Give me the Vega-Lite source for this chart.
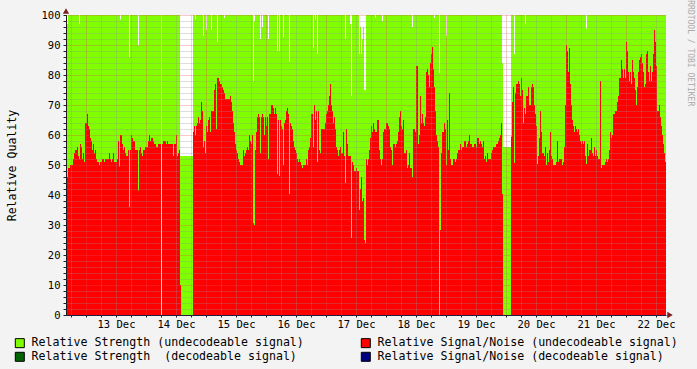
{
"$schema": "https://vega.github.io/schema/vega-lite/v6.json",
"width": 600, "height": 300,
"autosize": "none",
"padding": {"left": 66, "top": 15, "right": 31, "bottom": 54},
"background": "#F3F3F3",
"title": {"text": "RRDTOOL / TOBI OETIKER", "orient": "right", "anchor": "start", "fontSize": 8, "font": "DejaVu Sans Mono", "color": "#AAAAAA", "fontWeight": "normal", "offset": 8, "dx": -8},
"config": {"view": {"fill": "white", "stroke": null}, "font": "DejaVu Sans Mono"},
"datasets": {
"arrows": [{"hour":256,"value":0,"kind":"x"},{"hour":16,"value":100,"kind":"y"}],
"strength": [
{"hour":16,"value":100},{"hour":16.4,"value":97},{"hour":16.8,"value":100},{"hour":21.2,"value":97},{"hour":21.6,"value":100},{"hour":37.6,"value":98.5},{"hour":38,"value":100},{"hour":41.2,"value":86},{"hour":41.6,"value":100},{"hour":44.8,"value":90},{"hour":45.2,"value":100},{"hour":54,"value":0},{"hour":54.4,"value":100},{"hour":61.6,"value":53},{"hour":66.8,"value":100},{"hour":67.6,"value":98.5},{"hour":68,"value":100},{"hour":70.8,"value":93},{"hour":71.2,"value":100},{"hour":72,"value":95},{"hour":72.4,"value":100},{"hour":74,"value":95},{"hour":74.4,"value":100},{"hour":76.4,"value":91},{"hour":76.8,"value":100},{"hour":79.2,"value":99},{"hour":79.6,"value":100},{"hour":90.8,"value":78},{"hour":91.2,"value":98},{"hour":91.6,"value":100},{"hour":93.6,"value":92},{"hour":94,"value":100},{"hour":94.4,"value":96},{"hour":94.8,"value":100},{"hour":96.8,"value":92},{"hour":97.2,"value":100},{"hour":100.4,"value":88},{"hour":100.8,"value":100},{"hour":101.2,"value":88},{"hour":101.6,"value":100},{"hour":102.8,"value":92.6},{"hour":103.2,"value":100},{"hour":105.2,"value":84.4},{"hour":105.6,"value":100},{"hour":114.8,"value":89},{"hour":115.2,"value":100},{"hour":115.6,"value":98.5},{"hour":116,"value":100},{"hour":116.4,"value":87},{"hour":116.8,"value":100},{"hour":127.6,"value":92},{"hour":128,"value":100},{"hour":129.6,"value":97},{"hour":130,"value":73},{"hour":130.4,"value":100},{"hour":133.2,"value":87},{"hour":133.6,"value":96},{"hour":134,"value":87},{"hour":134.4,"value":92},{"hour":134.8,"value":96},{"hour":135.2,"value":75},{"hour":136,"value":100},{"hour":139.6,"value":99},{"hour":140,"value":100},{"hour":142.4,"value":98},{"hour":142.8,"value":100},{"hour":154.4,"value":96},{"hour":154.8,"value":100},{"hour":163.2,"value":99},{"hour":163.6,"value":100},{"hour":165.2,"value":80.6},{"hour":165.6,"value":100},{"hour":168,"value":93},{"hour":168.4,"value":100},{"hour":190.4,"value":84},{"hour":190.8,"value":56},{"hour":194,"value":100},{"hour":195.2,"value":87},{"hour":195.6,"value":100},{"hour":199.6,"value":97},{"hour":200,"value":100},{"hour":224,"value":95.5},{"hour":224.4,"value":100},{"hour":256,"value":100}
],
"snr": [
{"hour":16,"value":46},{"hour":16.8,"value":49},{"hour":17.6,"value":50},{"hour":18.8,"value":52},{"hour":19.2,"value":54},{"hour":19.6,"value":55},{"hour":20.4,"value":56},{"hour":20.8,"value":53},{"hour":21.2,"value":52},{"hour":21.6,"value":57},{"hour":22,"value":56},{"hour":22.4,"value":52},{"hour":22.8,"value":54},{"hour":23.2,"value":51},{"hour":23.6,"value":64},{"hour":24.4,"value":67},{"hour":24.8,"value":63},{"hour":25.2,"value":62},{"hour":25.6,"value":59},{"hour":26,"value":58},{"hour":26.4,"value":55},{"hour":26.8,"value":57},{"hour":27.2,"value":54},{"hour":27.6,"value":55},{"hour":28,"value":52},{"hour":28.4,"value":51},{"hour":29.2,"value":50},{"hour":29.6,"value":51},{"hour":30.4,"value":52},{"hour":31.2,"value":51},{"hour":31.6,"value":52},{"hour":33.2,"value":54},{"hour":33.6,"value":52},{"hour":34,"value":51},{"hour":34.4,"value":52},{"hour":34.8,"value":54},{"hour":35.2,"value":51},{"hour":36.4,"value":52},{"hour":36.8,"value":58},{"hour":37.2,"value":49.5},{"hour":37.6,"value":60},{"hour":38.4,"value":57},{"hour":38.8,"value":55},{"hour":39.2,"value":56},{"hour":39.6,"value":54},{"hour":40,"value":53},{"hour":40.8,"value":55},{"hour":41.2,"value":36},{"hour":41.6,"value":55},{"hour":42,"value":60},{"hour":42.4,"value":59},{"hour":42.8,"value":58},{"hour":43.6,"value":55},{"hour":44.8,"value":41.5},{"hour":45.2,"value":55},{"hour":45.6,"value":56},{"hour":46,"value":54},{"hour":46.4,"value":53},{"hour":46.8,"value":55},{"hour":47.6,"value":56},{"hour":48.8,"value":58},{"hour":49.2,"value":60},{"hour":49.6,"value":58},{"hour":50,"value":59},{"hour":50.8,"value":58},{"hour":51.2,"value":57},{"hour":52,"value":56},{"hour":52.8,"value":57},{"hour":54,"value":0},{"hour":54.4,"value":57},{"hour":54.8,"value":58},{"hour":56,"value":57},{"hour":56.4,"value":58},{"hour":56.8,"value":57},{"hour":58.8,"value":53},{"hour":59.2,"value":57},{"hour":60,"value":60},{"hour":60.4,"value":53},{"hour":60.8,"value":54},{"hour":61.2,"value":55},{"hour":61.6,"value":10},{"hour":62,"value":0},{"hour":66.8,"value":61},{"hour":67.2,"value":63},{"hour":67.6,"value":60},{"hour":68,"value":63},{"hour":68.4,"value":64},{"hour":68.8,"value":66},{"hour":69.2,"value":64},{"hour":69.6,"value":65},{"hour":70,"value":71},{"hour":70.4,"value":68},{"hour":70.8,"value":56},{"hour":71.2,"value":58},{"hour":71.6,"value":54},{"hour":72,"value":63},{"hour":72.4,"value":61},{"hour":72.8,"value":65},{"hour":73.2,"value":66},{"hour":73.6,"value":61},{"hour":74,"value":68},{"hour":75.2,"value":75},{"hour":75.6,"value":77},{"hour":76,"value":62},{"hour":76.4,"value":79},{"hour":77.2,"value":78},{"hour":77.6,"value":77},{"hour":78.4,"value":76},{"hour":78.8,"value":75},{"hour":79.2,"value":74},{"hour":79.6,"value":72},{"hour":81.6,"value":73},{"hour":82,"value":71},{"hour":82.4,"value":68},{"hour":82.8,"value":64},{"hour":83.2,"value":61},{"hour":83.6,"value":57},{"hour":84,"value":55},{"hour":84.4,"value":54},{"hour":84.8,"value":52},{"hour":85.2,"value":51},{"hour":85.6,"value":50},{"hour":86.8,"value":55},{"hour":87.2,"value":53},{"hour":87.6,"value":54},{"hour":88,"value":55},{"hour":88.4,"value":56},{"hour":88.8,"value":55},{"hour":89.2,"value":60},{"hour":89.6,"value":58},{"hour":90,"value":57},{"hour":90.4,"value":60},{"hour":90.8,"value":30.6},{"hour":91.2,"value":30},{"hour":91.6,"value":55},{"hour":92,"value":61},{"hour":92.4,"value":66},{"hour":92.8,"value":67},{"hour":93.2,"value":66},{"hour":93.6,"value":54},{"hour":94,"value":66},{"hour":94.4,"value":67},{"hour":94.8,"value":66},{"hour":95.2,"value":60},{"hour":95.6,"value":66},{"hour":96,"value":63},{"hour":96.4,"value":66},{"hour":96.8,"value":52},{"hour":97.2,"value":67},{"hour":98,"value":70},{"hour":98.8,"value":69},{"hour":99.2,"value":67},{"hour":99.6,"value":69},{"hour":100,"value":67},{"hour":100.4,"value":47},{"hour":100.8,"value":65},{"hour":101.2,"value":46.3},{"hour":101.6,"value":65},{"hour":102,"value":63},{"hour":102.4,"value":62},{"hour":102.8,"value":50},{"hour":103.2,"value":64},{"hour":103.6,"value":65},{"hour":104,"value":68},{"hour":104.4,"value":69},{"hour":104.8,"value":67},{"hour":105.2,"value":40.3},{"hour":105.6,"value":64},{"hour":106,"value":63},{"hour":106.4,"value":62},{"hour":106.8,"value":58},{"hour":107.2,"value":56},{"hour":107.6,"value":55},{"hour":108,"value":54},{"hour":108.4,"value":52},{"hour":108.8,"value":51},{"hour":109.2,"value":52},{"hour":109.6,"value":51},{"hour":110,"value":50},{"hour":110.4,"value":49},{"hour":110.8,"value":50},{"hour":112,"value":52},{"hour":112.4,"value":50},{"hour":112.8,"value":55},{"hour":113.2,"value":56},{"hour":113.6,"value":59},{"hour":114,"value":67},{"hour":114.8,"value":56},{"hour":115.2,"value":70},{"hour":115.6,"value":65},{"hour":116,"value":68},{"hour":116.4,"value":51},{"hour":116.8,"value":68},{"hour":117.2,"value":55},{"hour":117.6,"value":54},{"hour":118,"value":62},{"hour":119.6,"value":64},{"hour":120,"value":67},{"hour":120.4,"value":68},{"hour":120.8,"value":70},{"hour":121.2,"value":73},{"hour":121.6,"value":77},{"hour":122,"value":70},{"hour":122.4,"value":68},{"hour":122.8,"value":64},{"hour":123.2,"value":66},{"hour":123.6,"value":62},{"hour":124,"value":56},{"hour":124.4,"value":55},{"hour":124.8,"value":53},{"hour":125.2,"value":55},{"hour":125.6,"value":56},{"hour":126,"value":54},{"hour":126.8,"value":61},{"hour":127.2,"value":53},{"hour":127.6,"value":44},{"hour":128,"value":62},{"hour":128.4,"value":57},{"hour":128.8,"value":53},{"hour":130,"value":25.7},{"hour":130.4,"value":51},{"hour":130.8,"value":50},{"hour":131.2,"value":48},{"hour":132,"value":49},{"hour":132.4,"value":48},{"hour":133.2,"value":35},{"hour":133.6,"value":42},{"hour":134,"value":46},{"hour":134.4,"value":38},{"hour":134.8,"value":39},{"hour":135.2,"value":25},{"hour":135.6,"value":24},{"hour":136,"value":52},{"hour":136.4,"value":50},{"hour":136.8,"value":52},{"hour":137.2,"value":55},{"hour":137.6,"value":59},{"hour":138,"value":63},{"hour":138.4,"value":61},{"hour":138.8,"value":64},{"hour":139.2,"value":62},{"hour":139.6,"value":61},{"hour":140.4,"value":65},{"hour":141.2,"value":55},{"hour":141.6,"value":52},{"hour":142,"value":50},{"hour":142.4,"value":52},{"hour":142.8,"value":61},{"hour":143.2,"value":62},{"hour":144,"value":64},{"hour":144.8,"value":63},{"hour":145.2,"value":62},{"hour":145.6,"value":56},{"hour":146,"value":55},{"hour":146.4,"value":50},{"hour":146.8,"value":57},{"hour":147.6,"value":56},{"hour":148,"value":57},{"hour":148.4,"value":58},{"hour":148.8,"value":61},{"hour":149.2,"value":66},{"hour":149.6,"value":68},{"hour":150,"value":63},{"hour":150.4,"value":62},{"hour":150.8,"value":65},{"hour":151.2,"value":54},{"hour":152,"value":55},{"hour":152.4,"value":49},{"hour":152.8,"value":50},{"hour":153.2,"value":54},{"hour":153.6,"value":49},{"hour":154.4,"value":46},{"hour":154.8,"value":62},{"hour":155.6,"value":61},{"hour":156,"value":83},{"hour":156.8,"value":57},{"hour":157.2,"value":60},{"hour":157.6,"value":73},{"hour":158,"value":64},{"hour":158.4,"value":67},{"hour":158.8,"value":64},{"hour":159.2,"value":63},{"hour":159.6,"value":66},{"hour":160,"value":81},{"hour":160.4,"value":82},{"hour":160.8,"value":80},{"hour":161.2,"value":76},{"hour":161.6,"value":84},{"hour":162,"value":87},{"hour":162.4,"value":89.3},{"hour":162.8,"value":82},{"hour":163.2,"value":76},{"hour":163.6,"value":68},{"hour":164,"value":60},{"hour":164.4,"value":58},{"hour":164.8,"value":56},{"hour":165.2,"value":0},{"hour":165.6,"value":28.3},{"hour":166,"value":54},{"hour":166.4,"value":61},{"hour":167.2,"value":64},{"hour":167.6,"value":62},{"hour":168,"value":50},{"hour":168.4,"value":65},{"hour":168.8,"value":55},{"hour":169.2,"value":74},{"hour":169.6,"value":52},{"hour":170,"value":50},{"hour":170.8,"value":52},{"hour":171.6,"value":51},{"hour":172,"value":52},{"hour":172.4,"value":54},{"hour":172.8,"value":55},{"hour":173.6,"value":57},{"hour":174,"value":55},{"hour":174.4,"value":56},{"hour":175.2,"value":58},{"hour":176,"value":56},{"hour":176.4,"value":57},{"hour":176.8,"value":58},{"hour":177.2,"value":60},{"hour":177.6,"value":57},{"hour":178.4,"value":56},{"hour":179.2,"value":57},{"hour":180,"value":56},{"hour":180.4,"value":59},{"hour":181.2,"value":57},{"hour":181.6,"value":58},{"hour":182,"value":57},{"hour":182.4,"value":56},{"hour":182.8,"value":58},{"hour":183.2,"value":52},{"hour":183.6,"value":53},{"hour":184,"value":51},{"hour":184.4,"value":54},{"hour":184.8,"value":52},{"hour":186,"value":54},{"hour":186.4,"value":55},{"hour":186.8,"value":56},{"hour":188,"value":57},{"hour":188.8,"value":58},{"hour":189.2,"value":59},{"hour":189.6,"value":60},{"hour":190,"value":64},{"hour":190.4,"value":40.3},{"hour":190.8,"value":0},{"hour":194,"value":59.4},{"hour":194.4,"value":71},{"hour":194.8,"value":76},{"hour":195.2,"value":50.7},{"hour":195.6,"value":74},{"hour":196,"value":77},{"hour":196.8,"value":78},{"hour":197.2,"value":77},{"hour":197.6,"value":73},{"hour":198,"value":79},{"hour":198.4,"value":75},{"hour":198.8,"value":64},{"hour":199.2,"value":69},{"hour":199.6,"value":67},{"hour":200,"value":73},{"hour":200.8,"value":76},{"hour":201.2,"value":70},{"hour":202,"value":76},{"hour":202.4,"value":77},{"hour":202.8,"value":76},{"hour":203.2,"value":70},{"hour":203.6,"value":67},{"hour":204,"value":63},{"hour":204.4,"value":50.3},{"hour":204.8,"value":53},{"hour":205.2,"value":59},{"hour":205.6,"value":68},{"hour":206,"value":61},{"hour":206.4,"value":54},{"hour":207.2,"value":53},{"hour":207.6,"value":56},{"hour":208,"value":50},{"hour":208.4,"value":54},{"hour":208.8,"value":51},{"hour":209.2,"value":55},{"hour":209.6,"value":61},{"hour":210,"value":53},{"hour":210.4,"value":52},{"hour":210.8,"value":50},{"hour":212,"value":51},{"hour":212.4,"value":58},{"hour":212.8,"value":51},{"hour":213.2,"value":52},{"hour":214.4,"value":50},{"hour":214.8,"value":51},{"hour":215.2,"value":56},{"hour":215.6,"value":70},{"hour":216,"value":90},{"hour":216.4,"value":88},{"hour":216.8,"value":81},{"hour":217.2,"value":89},{"hour":217.6,"value":77},{"hour":218,"value":70},{"hour":218.4,"value":65},{"hour":218.8,"value":63},{"hour":219.2,"value":61},{"hour":219.6,"value":63},{"hour":220,"value":62},{"hour":220.4,"value":61},{"hour":220.8,"value":62},{"hour":221.2,"value":60},{"hour":221.6,"value":58},{"hour":222,"value":57},{"hour":222.4,"value":58},{"hour":222.8,"value":57},{"hour":223.2,"value":58},{"hour":223.6,"value":53},{"hour":224,"value":50.3},{"hour":224.4,"value":57},{"hour":224.8,"value":53},{"hour":225.2,"value":55},{"hour":226,"value":59},{"hour":226.4,"value":54},{"hour":226.8,"value":53},{"hour":227.2,"value":56},{"hour":227.6,"value":53},{"hour":228,"value":55},{"hour":228.4,"value":53},{"hour":228.8,"value":52},{"hour":229.6,"value":78},{"hour":230,"value":49},{"hour":230.4,"value":50},{"hour":231.6,"value":51},{"hour":232,"value":52},{"hour":232.4,"value":51},{"hour":232.8,"value":52},{"hour":233.2,"value":55},{"hour":233.6,"value":61},{"hour":234,"value":59},{"hour":234.4,"value":60},{"hour":234.8,"value":67},{"hour":235.6,"value":68},{"hour":236.4,"value":71},{"hour":236.8,"value":73},{"hour":237.2,"value":79},{"hour":238,"value":85},{"hour":238.4,"value":82},{"hour":238.8,"value":79},{"hour":239.2,"value":82},{"hour":239.6,"value":79},{"hour":240,"value":91},{"hour":240.4,"value":88},{"hour":240.8,"value":81},{"hour":241.2,"value":78},{"hour":241.6,"value":81},{"hour":242,"value":77},{"hour":242.4,"value":85},{"hour":242.8,"value":81},{"hour":243.2,"value":79},{"hour":243.6,"value":75},{"hour":244,"value":70},{"hour":244.4,"value":76},{"hour":244.8,"value":81},{"hour":245.2,"value":85},{"hour":245.6,"value":86},{"hour":246,"value":87},{"hour":246.4,"value":84},{"hour":246.8,"value":81},{"hour":247.2,"value":76},{"hour":247.6,"value":77},{"hour":248,"value":87},{"hour":248.4,"value":88},{"hour":248.8,"value":81},{"hour":249.2,"value":78},{"hour":249.6,"value":83},{"hour":250,"value":78},{"hour":250.4,"value":81},{"hour":250.8,"value":87},{"hour":251.2,"value":95},{"hour":251.6,"value":91},{"hour":252,"value":83},{"hour":252.4,"value":68},{"hour":253.2,"value":70},{"hour":253.6,"value":66},{"hour":254,"value":63},{"hour":254.4,"value":60},{"hour":254.8,"value":57},{"hour":255.2,"value":54},{"hour":255.6,"value":51},{"hour":256,"value":51}
]
},
"encoding": {
"x": {"field": "hour", "type": "quantitative", "scale": {"domain": [16, 256], "nice": false, "zero": false},
 "axis": {"values": [18,24,30,36,42,48,54,60,66,72,78,84,90,96,102,108,114,120,126,132,138,144,150,156,162,168,174,180,186,192,198,204,210,216,222,228,234,240,246,252],
  "labelExpr": "(datum.value - 12) % 24 == 0 ? (12 + floor(datum.value / 24)) + ' Dec' : ''",
  "title": null, "grid": true, "gridDash": [1, 1],
  "gridColor": {"condition": {"test": "datum.value % 24 == 0", "value": "rgba(222,79,79,0.6)"}, "value": "rgba(143,143,143,0.6)"},
  "domainColor": "#1F1F3F", "tickColor": "#1F1F1F", "tickSize": 2, "labelFont": "DejaVu Sans Mono", "labelFontSize": 10.5, "labelColor": "#000000", "labelPadding": 2, "labelFlush": false, "labelOverlap": false, "zindex": 1}},
"y": {"field": "value", "type": "quantitative", "scale": {"domain": [0, 100], "nice": false},
 "axis": {"values": [0,2,4,6,8,10,12,14,16,18,20,22,24,26,28,30,32,34,36,38,40,42,44,46,48,50,52,54,56,58,60,62,64,66,68,70,72,74,76,78,80,82,84,86,88,90,92,94,96,98,100],
  "labelExpr": "datum.value % 10 == 0 ? datum.value : ''",
  "title": "Relative Quality", "titleFont": "DejaVu Sans Mono", "titleFontSize": 11.6, "titleFontWeight": "normal", "titleColor": "#000000", "titlePadding": 24,
  "grid": true, "gridDash": [1, 1],
  "gridColor": {"condition": {"test": "datum.value % 10 == 0", "value": "rgba(222,79,79,0.6)"}, "value": "rgba(143,143,143,0.6)"},
  "domainColor": "#1F1F1F", "tickColor": "#1F1F1F", "tickSize": 3, "labelFont": "DejaVu Sans Mono", "labelFontSize": 10.5, "labelColor": "#000000", "labelPadding": 3, "labelFlush": false, "labelOverlap": false, "zindex": 1}}
},
"layer": [
{"data": {"name": "strength"}, "mark": {"type": "area", "interpolate": "step-after"},
 "encoding": {"y": {"field": "value", "type": "quantitative", "stack": null},
  "color": {"datum": "Relative Strength (undecodeable signal)", "type": "nominal",
   "scale": {"domain": ["Relative Strength (undecodeable signal)", "Relative Signal/Noise (undecodeable signal)", "Relative Strength \u00a0(decodeable signal)", "Relative Signal/Noise (decodeable signal)"], "range": ["#80FF00", "#FF0000", "#006400", "#000080"]},
   "legend": {"orient": "none", "legendX": -52, "legendY": 322, "columns": 2, "direction": "horizontal", "title": null, "padding": 0,
    "symbolType": "square", "symbolSize": 81, "symbolStrokeColor": "#000000", "symbolStrokeWidth": 1, "symbolOpacity": 1,
    "labelFont": "DejaVu Sans Mono", "labelFontSize": 11.6, "labelColor": "#000000", "labelOffset": 6, "labelLimit": 400,
    "columnPadding": 55, "rowPadding": 0}}}},
{"data": {"name": "snr"}, "mark": {"type": "area", "interpolate": "step-after"},
 "encoding": {"y": {"field": "value", "type": "quantitative", "stack": null},
  "color": {"datum": "Relative Signal/Noise (undecodeable signal)", "type": "nominal"}}},
{"data": {"name": "arrows"}, "transform": [{"filter": "datum.kind == 'x'"}],
 "mark": {"type": "point", "shape": "triangle-right", "filled": true, "size": 40, "color": "#7F1F1F", "opacity": 1, "xOffset": 4}},
{"data": {"name": "arrows"}, "transform": [{"filter": "datum.kind == 'y'"}],
 "mark": {"type": "point", "shape": "triangle-up", "filled": true, "size": 40, "color": "#7F1F1F", "opacity": 1, "yOffset": -4}}
]
}
